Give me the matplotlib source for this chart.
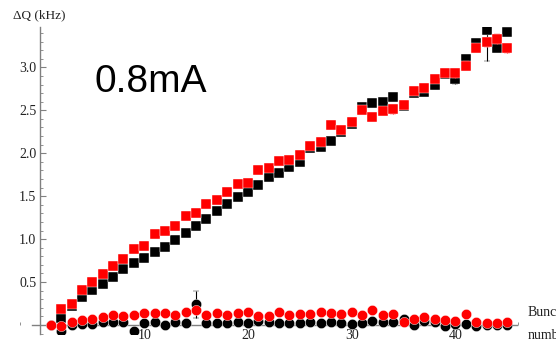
import numpy as np
import matplotlib.pyplot as plt
from matplotlib.ticker import MultipleLocator

# bunch numbers
sq_bunch = list(range(2, 46))
circ_bunch = list(range(1, 46))

# tune shift (squares)
black_sq = [0.08, 0.22, 0.33, 0.41, 0.48, 0.56, 0.65, 0.72, 0.78, 0.85,
            0.91, 0.99, 1.07, 1.15, 1.23, 1.33, 1.41, 1.49, 1.55, 1.63,
            1.72, 1.77, 1.84, 1.90, 2.06, 2.07, 2.14, 2.25, 2.34, 2.54,
            2.59, 2.60, 2.65, 2.55, 2.70, 2.71, 2.79, 2.92, 2.87, 3.10,
            3.28, 3.43, 3.23, 3.41]
red_sq = [0.19, 0.25, 0.41, 0.50, 0.59, 0.69, 0.77, 0.89, 0.92, 1.06,
          1.10, 1.15, 1.27, 1.30, 1.41, 1.46, 1.55, 1.64, 1.65, 1.81,
          1.83, 1.91, 1.92, 1.98, 2.09, 2.13, 2.33, 2.27, 2.36, 2.50,
          2.42, 2.49, 2.51, 2.56, 2.72, 2.76, 2.86, 2.94, 2.93, 3.02,
          3.22, 3.29, 3.33, 3.22]
black_sq_lo = [0]*29 + [0.03, 0.05, 0.03, 0.04, 0.03, 0.03, 0.04, 0.04,
                        0.04, 0.06, 0.04, 0.03, 0.35, 0.05, 0.04]
black_sq_hi = [0]*29 + [0.03, 0.04, 0.03, 0.04, 0.03, 0.03, 0.04, 0.04,
                        0.04, 0.04, 0.04, 0.03, 0.04, 0.05, 0.04]
red_sq_err = [0]*24 + [0.03, 0.03, 0.04, 0.04, 0.04, 0.04, 0.05, 0.04,
                       0.05, 0.04, 0.04, 0.05, 0.04, 0.04, 0.05, 0.05,
                       0.04, 0.05, 0.06, 0.05]

# circles near zero
black_c = [0.0, -0.07, 0.0, 0.01, 0.01, 0.03, 0.03, 0.03, -0.07, 0.02,
           0.04, 0.0, 0.03, 0.02, 0.24, 0.02, 0.02, 0.02, 0.035, 0.02,
           0.05, 0.04, 0.02, 0.02, 0.02, 0.03, 0.02, 0.04, 0.02, 0.01,
           0.02, 0.05, 0.03, 0.03, 0.07, 0.0, 0.05, 0.04, -0.01, 0.01,
           0.01, -0.01, 0.0, 0.0, 0.0]
black_c_err = [0]*14 + [0.16] + [0]*30
red_c = [0.0, -0.01, 0.03, 0.06, 0.07, 0.09, 0.12, 0.10, 0.12, 0.14,
         0.14, 0.14, 0.12, 0.15, 0.17, 0.12, 0.14, 0.12, 0.14, 0.15,
         0.11, 0.10, 0.147, 0.12, 0.124, 0.124, 0.147, 0.14, 0.124, 0.147,
         0.12, 0.17, 0.12, 0.124, 0.04, 0.07, 0.09, 0.07, 0.06, 0.05,
         0.13, 0.03, 0.02, 0.02, 0.03]

plt.rcParams['font.family'] = ['Liberation Serif', 'DejaVu Serif']

fig = plt.figure(figsize=(5.56, 3.42), dpi=100)
ax = fig.add_axes([0.0, 0.0246, 0.948, 0.8964])

ax.errorbar(circ_bunch, black_c, yerr=black_c_err, fmt='o', color='black',
            ms=7.4, mec='white', mew=0.3, capsize=2, elinewidth=0.8, zorder=3)
ax.errorbar(circ_bunch, red_c, fmt='o', color='red', ms=7.4, mec='white',
            mew=0.3, zorder=4)
ax.errorbar(sq_bunch, black_sq, yerr=[black_sq_lo, black_sq_hi], fmt='s',
            color='black', ms=7.0, mec='white', mew=0.3, capsize=2,
            elinewidth=0.8, zorder=3)
ax.errorbar(sq_bunch, red_sq, yerr=red_sq_err, fmt='s', color='red',
            ms=7.0, mec='white', mew=0.3, capsize=2, elinewidth=0.8,
            zorder=4)

ax.set_xlim(-3.9, 46.9)
ax.set_ylim(-0.1, 3.47)

for s in ['top', 'right']:
    ax.spines[s].set_visible(False)
ax.spines['left'].set_position(('data', 0))
ax.spines['bottom'].set_position(('data', 0))
ax.spines['bottom'].set_bounds(-0.85, 45.9)
for s in ['left', 'bottom']:
    ax.spines[s].set_color('#808080')
    ax.spines[s].set_linewidth(1.0)

ax.set_xticks([10, 20, 30, 40])
ax.set_yticks([0.5, 1.0, 1.5, 2.0, 2.5, 3.0])
ax.yaxis.set_minor_locator(MultipleLocator(0.1))
ax.xaxis.set_minor_locator(MultipleLocator(2))
ax.tick_params(axis='both', which='major', direction='in', length=4,
               color='#808080', labelsize=10, labelcolor='#222222', pad=3)
ax.tick_params(axis='both', which='minor', direction='in', length=2,
               color='#808080')
ax.set_facecolor('none')

fig.text(0.024, 0.955, 'ΔQ (kHz)', fontsize=9.5, color='#222222',
         va='center', ha='left')
fig.text(0.949, 0.085, 'Bunch', fontsize=10, color='#222222',
         va='center', ha='left')
fig.text(0.949, 0.018, 'number', fontsize=10, color='#222222',
         va='center', ha='left')
fig.text(0.17, 0.76, '0.8mA', fontsize=28, family='Liberation Sans',
         va='center', ha='left')

fig.savefig('out.png', dpi=100)
